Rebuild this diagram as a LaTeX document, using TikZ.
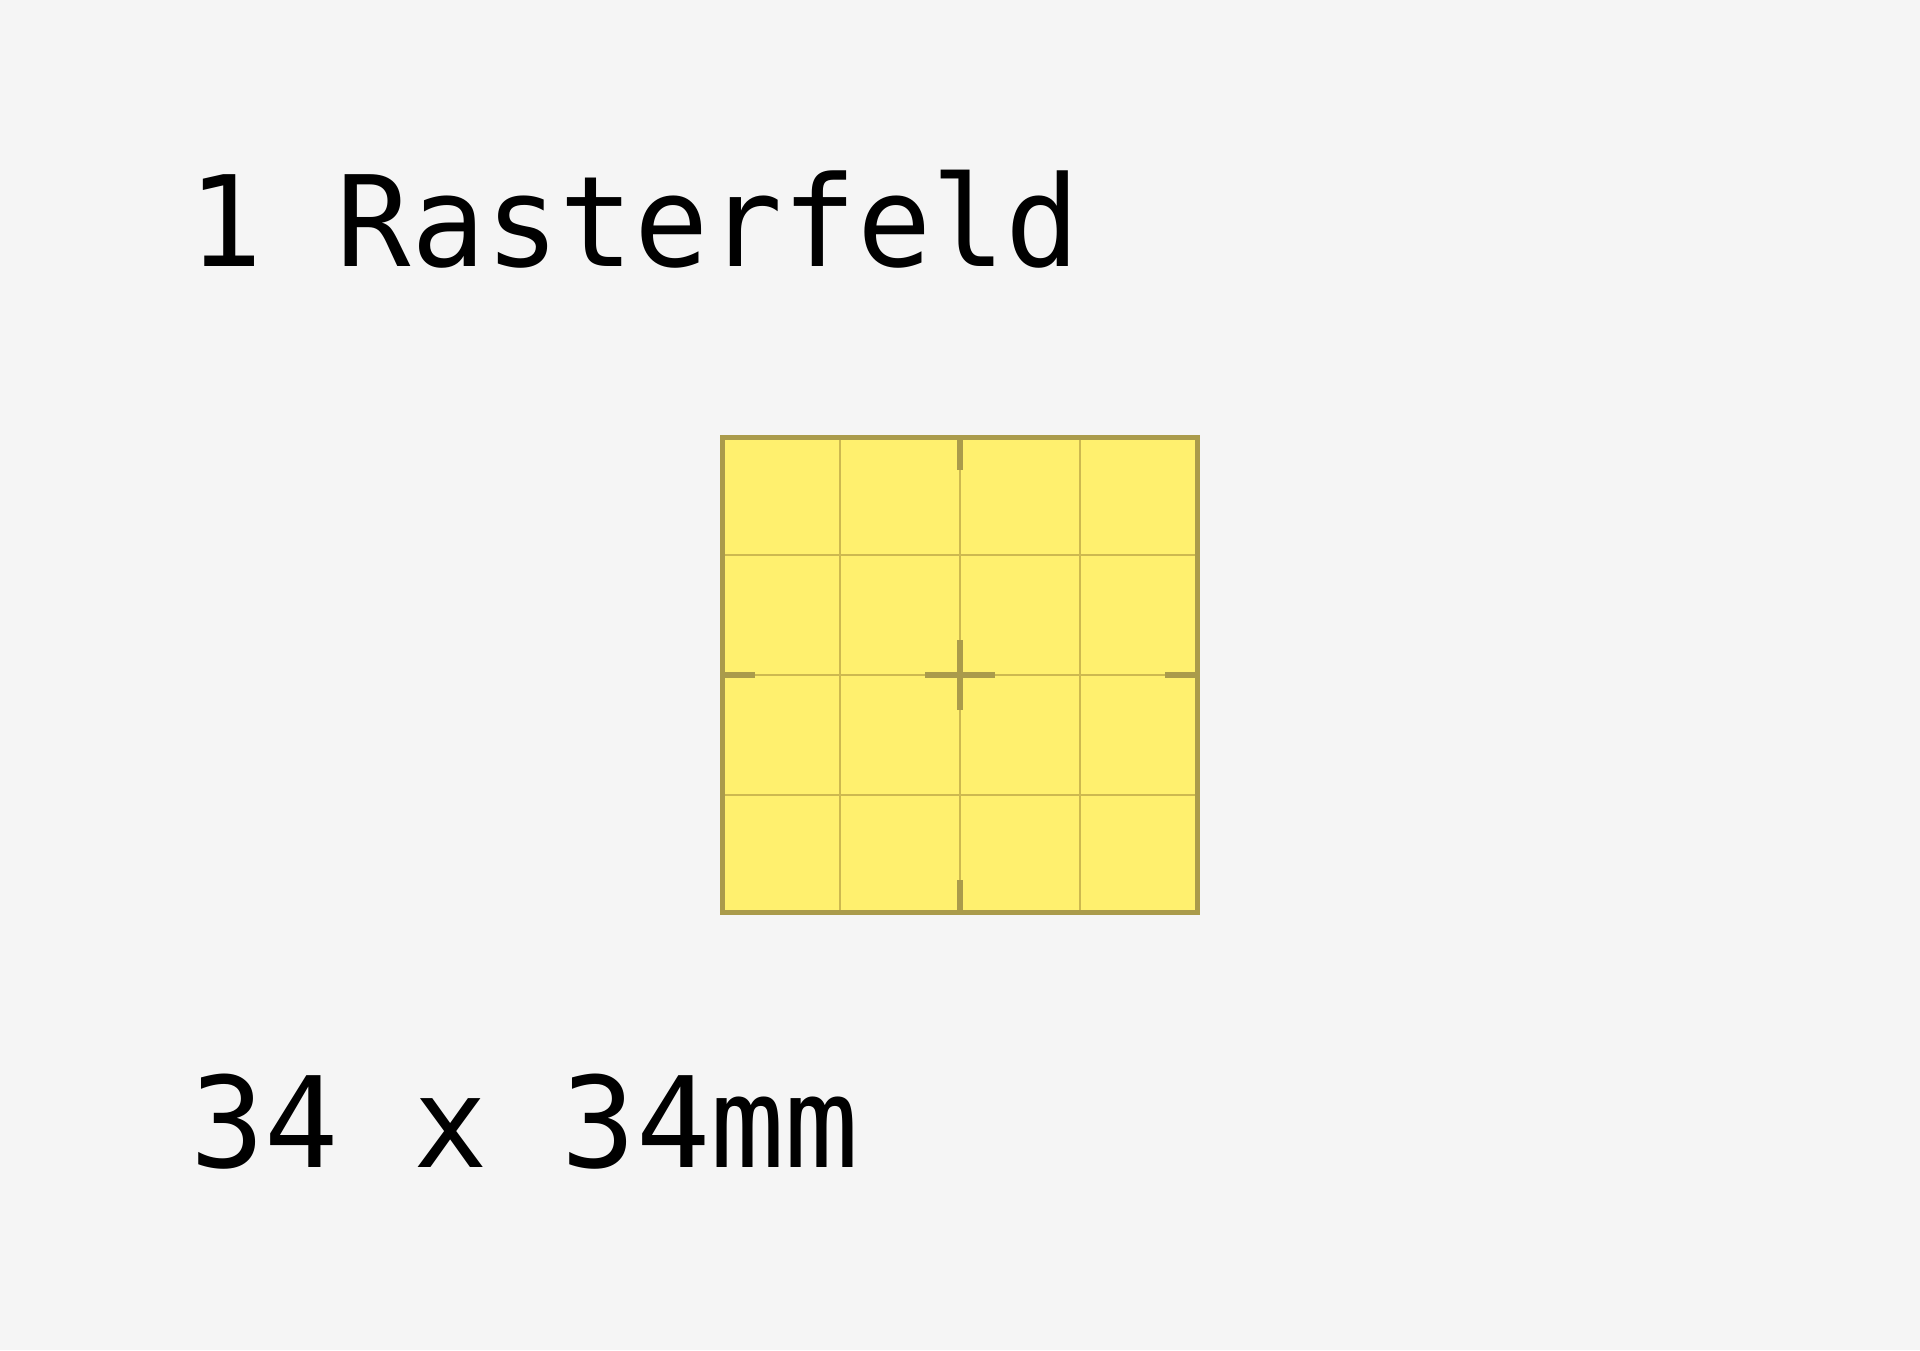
\documentclass[tikz,border=0pt]{standalone}
\usepackage{fontspec}
\newfontfamily\reffont[FakeStretch=0.98]{DejaVu Sans Mono}
\definecolor{bgcol}{RGB}{245,245,245}
\definecolor{fillcol}{RGB}{255,240,110}
\definecolor{bordercol}{RGB}{170,155,75}
\definecolor{gridcol}{RGB}{205,185,80}
\tikzset{
  label text/.style={anchor=base west, inner sep=0pt, text=black, font=\reffont\fontsize{126}{130}\selectfont},
  gridline/.style={draw=gridcol, line width=1.6pt},
  tickmark/.style={draw=bordercol, line width=5.5pt},
  frame/.style={draw=bordercol, line width=5pt},
}
\begin{document}
\begin{tikzpicture}[x=1pt,y=-1pt]
\fill[bgcol] (0,0) rectangle (1920,1350);
\useasboundingbox (0,0) rectangle (1920,1350);
% cell
\fill[fillcol] (720,435) rectangle (1200,915);
\foreach \v in {840,960,1080} {
  \draw[gridline] (\v,435) -- (\v,915);
}
\foreach \h in {555,675,795} {
  \draw[gridline] (720,\h) -- (1200,\h);
}
% ticks
\draw[tickmark] (960,437) -- (960,470);
\draw[tickmark] (960,880) -- (960,913);
\draw[tickmark] (722,675) -- (755,675);
\draw[tickmark] (1165,675) -- (1198,675);
\draw[tickmark] (925,675) -- (995,675);
\draw[tickmark] (960,640) -- (960,710);
% frame
\draw[frame] (722.5,437.5) rectangle (1197.5,912.5);
% texts
\node[label text] (title) at (188,266) {1 Rasterfeld};
\node[label text] (size) at (190,1167) {34 x 34mm};
\end{tikzpicture}
\end{document}
